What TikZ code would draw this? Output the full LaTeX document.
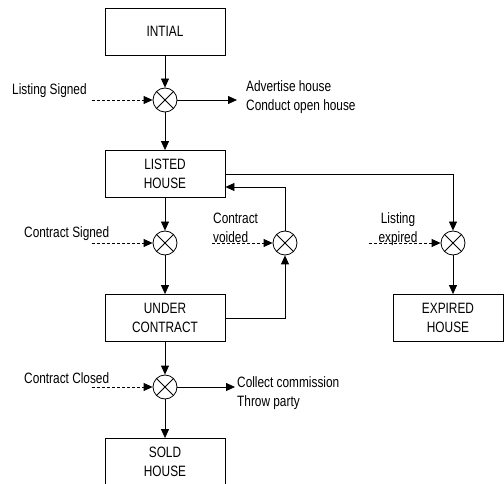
\documentclass[tikz,border=0pt]{standalone}
\usepackage{fontspec}
\setmainfont{Liberation Sans}[FakeStretch=0.79]
\usetikzlibrary{arrows.meta}

\begin{document}
\begin{tikzpicture}[x=1pt,y=-1pt,
  every node/.style={font=\fontsize{15}{19.5}\selectfont},
  state/.style={draw, line width=0.8pt, minimum width=120pt, minimum height=47pt,
    inner sep=0pt, align=center},
  junction/.style={draw, circle, line width=0.8pt, minimum size=24pt, inner sep=0pt,
    path picture={\draw[line width=0.8pt]
      (path picture bounding box.north west) -- (path picture bounding box.south east)
      (path picture bounding box.north east) -- (path picture bounding box.south west);}},
  flow/.style={line width=0.8pt, -{Triangle[length=9pt,width=8pt]}},
  trigger/.style={flow, dash pattern=on 3pt off 2pt},
  lbl/.style={inner sep=0pt, align=left}
]
\useasboundingbox (0,0) rectangle (504,484);
\clip (0,0) rectangle (504,484);

% states and junctions
\node[state] (init) at (165,31.5) {INTIAL};
\node[junction] (j1) at (165,100) {};
\node[state] (listed) at (165,174) {LISTED\\HOUSE};
\node[junction] (j2) at (165,243) {};
\node[junction] (jv) at (285,243) {};
\node[junction] (je) at (453,243) {};
\node[state] (under) at (165,318) {UNDER\\CONTRACT};
\node[state, minimum width=110pt] (expired) at (448,318) {EXPIRED\\HOUSE};
\node[junction] (j3) at (165,387) {};
\node[state] (sold) at (165,462) {SOLD\\HOUSE};

% event labels and actions
\node[lbl, anchor=west] (lsig) at (12,91) {Listing Signed};
\node[lbl, anchor=west] (adv) at (246,97) {Advertise house\\Conduct open house};
\node[lbl, anchor=west] (csig) at (24,234) {Contract Signed};
\node[lbl, anchor=west] (cvoid) at (213,228) {Contract\\voided};
\node[lbl, align=center] (lexp) at (398,229) {Listing\\expired};
\node[lbl, anchor=west] (cclo) at (24,378) {Contract Closed};
\node[lbl, anchor=west] (col) at (237,393) {Collect commission\\Throw party};

% free ends of trigger and action arrows
\coordinate (t1) at (92,100);
\coordinate (t2) at (92,243);
\coordinate (tv) at (212,243);
\coordinate (te) at (369,243);
\coordinate (t3) at (92,387);
\coordinate (o1) at (237,100);
\coordinate (o3) at (235,387);
\coordinate (fb) at (285,187);

% main flow
\draw[flow] (init) -- (j1);
\draw[flow] (j1) -- (listed);
\draw[flow] (listed) -- (j2);
\draw[flow] (j2) -- (under);
\draw[flow] (under) -- (j3);
\draw[flow] (j3) -- (sold);
\draw[flow] (j1) -- (o1);
\draw[flow] (j3) -- (o3);

% expiry branch
\draw[flow] (listed.east) -- (listed.east -| je) -- (je);
\draw[flow] (je) -- (je |- expired.north);

% voided contract loops back
\draw[flow] (under.east) -- (under.east -| jv) -- (jv);
\draw[flow] (jv) -- (fb) -- (fb -| listed.east);

% triggers
\draw[trigger] (t1) -- (j1);
\draw[trigger] (t2) -- (j2);
\draw[trigger] (tv) -- (jv);
\draw[trigger] (te) -- (je);
\draw[trigger] (t3) -- (j3);
\end{tikzpicture}
\end{document}
